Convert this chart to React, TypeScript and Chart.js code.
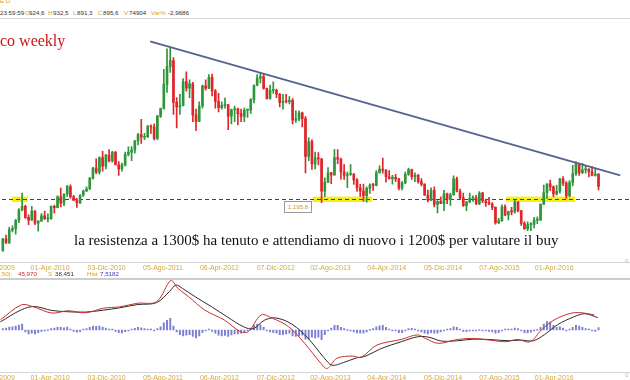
import React, { useEffect, useRef } from "react";
import { Chart, registerables } from "chart.js";
Chart.register(...registerables);

// ---- time axis (weeks since Fri 04-Sep-2009) ----
const candleStepWeeks = 2;
const candleOffsetWeeks = 0.5;
const tickWeeks = [-4.57, 29.86, 65, 100, 135, 170, 204, 239, 274, 309, 343];
const tickLabels = [
  "03-Ago-2009", "01-Apr-2010", "03-Dic-2010", "05-Ago-2011", "06-Apr-2012", "07-Dic-2012",
  "02-Ago-2013", "04-Apr-2014", "05-Dic-2014", "07-Ago-2015", "01-Apr-2016",
];

// ---- gold, 2-week candles ----
const opens = [
  953, 1006, 990, 1050, 1056, 1095, 1145, 1162, 1110, 1097,
  1140, 1082, 1092, 1117, 1103, 1104, 1162, 1156, 1208, 1177,
  1220, 1256, 1208, 1190, 1180, 1215, 1236, 1246, 1296, 1344,
  1325, 1395, 1353, 1406, 1378, 1421, 1360, 1340, 1360, 1410,
  1420, 1430, 1474, 1504, 1491, 1493, 1542, 1540, 1486, 1592,
  1628, 1743, 1828, 1856, 1657, 1636, 1642, 1756, 1725, 1746,
  1598, 1566, 1640, 1736, 1725, 1776, 1712, 1662, 1632, 1643,
  1645, 1592, 1622, 1626, 1604, 1590, 1620, 1620, 1670, 1740,
  1773, 1780, 1724, 1676, 1714, 1714, 1696, 1657, 1662, 1660,
  1667, 1573, 1577, 1607, 1580, 1400, 1470, 1364, 1393, 1388,
  1234, 1277, 1322, 1312, 1395, 1387, 1326, 1310, 1315, 1315,
  1288, 1250, 1235, 1213, 1248, 1264, 1262, 1323, 1340, 1335,
  1303, 1294, 1300, 1293, 1250, 1274, 1315, 1337, 1304, 1310,
  1280, 1268, 1216, 1192, 1238, 1171, 1186, 1175, 1222, 1195,
  1217, 1293, 1234, 1204, 1165, 1184, 1201, 1203, 1175, 1225,
  1189, 1180, 1173, 1157, 1085, 1094, 1160, 1121, 1137, 1136,
  1182, 1142, 1081, 1056, 1075, 1076, 1097, 1097, 1173, 1227,
  1270, 1255, 1222, 1234, 1293, 1273, 1213, 1275, 1318, 1366,
  1322, 1336, 1340, 1326, 1310, 1316,
];
const highs = [
  1010, 1025, 1062, 1070, 1100, 1152, 1226, 1168, 1122, 1162,
  1142, 1095, 1128, 1140, 1127, 1165, 1168, 1212, 1249, 1223,
  1262, 1265, 1215, 1200, 1218, 1240, 1255, 1300, 1348, 1388,
  1398, 1424, 1410, 1432, 1424, 1423, 1375, 1368, 1420, 1445,
  1447, 1476, 1510, 1577, 1510, 1548, 1550, 1555, 1595, 1630,
  1815, 1912, 1921, 1870, 1680, 1695, 1770, 1803, 1764, 1753,
  1625, 1660, 1740, 1765, 1790, 1792, 1718, 1700, 1660, 1678,
  1648, 1625, 1640, 1630, 1625, 1630, 1625, 1675, 1740, 1790,
  1796, 1790, 1725, 1740, 1755, 1720, 1700, 1695, 1695, 1685,
  1675, 1617, 1617, 1611, 1590, 1488, 1480, 1420, 1418, 1390,
  1298, 1347, 1324, 1434, 1433, 1392, 1361, 1325, 1361, 1320,
  1295, 1267, 1268, 1255, 1270, 1272, 1332, 1355, 1392, 1337,
  1332, 1310, 1315, 1296, 1280, 1325, 1345, 1340, 1322, 1315,
  1295, 1270, 1240, 1250, 1255, 1190, 1208, 1238, 1225, 1225,
  1307, 1302, 1245, 1225, 1185, 1225, 1212, 1215, 1232, 1229,
  1197, 1205, 1180, 1160, 1105, 1170, 1170, 1140, 1157, 1191,
  1185, 1143, 1090, 1088, 1085, 1110, 1112, 1173, 1263, 1270,
  1287, 1260, 1262, 1296, 1304, 1280, 1285, 1358, 1375, 1368,
  1367, 1358, 1342, 1352, 1345, 1318,
];
const lows = [
  948, 985, 985, 1040, 1030, 1085, 1140, 1105, 1075, 1095,
  1075, 1044, 1090, 1100, 1088, 1100, 1130, 1155, 1160, 1165,
  1210, 1200, 1190, 1157, 1175, 1210, 1232, 1242, 1292, 1318,
  1315, 1330, 1340, 1374, 1372, 1362, 1309, 1330, 1355, 1402,
  1380, 1415, 1455, 1462, 1480, 1490, 1510, 1478, 1480, 1585,
  1625, 1705, 1800, 1600, 1535, 1600, 1640, 1710, 1680, 1565,
  1523, 1565, 1630, 1715, 1722, 1688, 1630, 1612, 1625, 1630,
  1527, 1555, 1565, 1550, 1565, 1565, 1585, 1605, 1655, 1735,
  1750, 1720, 1672, 1672, 1700, 1680, 1635, 1625, 1655, 1650,
  1555, 1562, 1570, 1540, 1321, 1380, 1338, 1340, 1360, 1180,
  1208, 1275, 1270, 1310, 1365, 1292, 1290, 1251, 1309, 1267,
  1233, 1210, 1187, 1182, 1224, 1238, 1260, 1320, 1320, 1277,
  1292, 1268, 1280, 1240, 1240, 1270, 1310, 1290, 1280, 1272,
  1260, 1215, 1183, 1189, 1160, 1131, 1175, 1142, 1175, 1167,
  1215, 1231, 1196, 1162, 1142, 1178, 1186, 1170, 1170, 1180,
  1162, 1170, 1146, 1077, 1080, 1090, 1118, 1098, 1122, 1130,
  1136, 1072, 1052, 1046, 1047, 1060, 1080, 1095, 1172, 1200,
  1237, 1208, 1215, 1225, 1261, 1200, 1207, 1260, 1310, 1310,
  1318, 1320, 1302, 1307, 1306, 1241,
];
const closes = [
  1006, 990, 1050, 1056, 1095, 1145, 1162, 1110, 1097, 1140,
  1082, 1092, 1117, 1103, 1104, 1162, 1156, 1208, 1177, 1220,
  1256, 1208, 1190, 1180, 1215, 1236, 1246, 1296, 1344, 1325,
  1395, 1353, 1406, 1378, 1421, 1360, 1340, 1360, 1410, 1420,
  1430, 1474, 1504, 1491, 1493, 1542, 1540, 1486, 1592, 1628,
  1743, 1828, 1856, 1657, 1636, 1642, 1756, 1725, 1746, 1598,
  1566, 1640, 1736, 1725, 1776, 1712, 1662, 1632, 1643, 1645,
  1592, 1622, 1626, 1604, 1590, 1620, 1620, 1670, 1740, 1773,
  1780, 1724, 1676, 1714, 1714, 1696, 1657, 1662, 1660, 1667,
  1573, 1577, 1607, 1580, 1400, 1470, 1364, 1393, 1388, 1234,
  1277, 1322, 1312, 1395, 1387, 1326, 1310, 1315, 1315, 1288,
  1250, 1235, 1213, 1248, 1264, 1262, 1323, 1340, 1335, 1303,
  1294, 1300, 1293, 1250, 1274, 1315, 1337, 1304, 1310, 1280,
  1268, 1216, 1192, 1238, 1171, 1186, 1175, 1222, 1195, 1217,
  1293, 1234, 1204, 1165, 1184, 1201, 1203, 1175, 1225, 1189,
  1180, 1173, 1157, 1085, 1094, 1160, 1121, 1137, 1136, 1182,
  1142, 1081, 1056, 1075, 1076, 1097, 1097, 1173, 1227, 1270,
  1255, 1222, 1234, 1293, 1273, 1213, 1275, 1318, 1366, 1322,
  1336, 1340, 1326, 1310, 1316, 1257,
];

// ---- annotations ----
const supportLevel = 1195.8;
const zoneStartWeeks = [6.2, 193, 313];
const zoneEndWeeks = [16.1, 230, 356];
const zoneHalfPrice = 13;
const trendWeeks = [92, 384];
const trendPrices = [1948, 1310];

// ---- MACD ----
const macdWeeks = [-1, 12, 19, 31, 41, 52, 63, 73, 84, 96, 105, 109, 116, 126, 138, 148, 153, 161, 168, 178, 188, 198, 202, 208, 218, 223, 233, 248, 258, 263, 271, 281, 291, 303, 313, 320, 328, 335, 343, 353, 360, 368];
const macdValues = [31, 77, 72, 52, 59, 53, 67, 71, 82, 87, 153, 129, 102, 61, 31, -5, -5, 46, 36, 10, -41, -102, -118, -87, -80, -84, -46, -29, -15, -26, -41, -31, -26, -31, -36, -29, -36, 0, 31, 51, 53, 46];
const signalWeeks = [-1, 12, 20, 31, 41, 52, 63, 73, 84, 96, 104, 108, 112, 120, 130, 140, 150, 156, 163, 170, 180, 190, 200, 205, 212, 220, 226, 235, 248, 258, 265, 273, 283, 293, 305, 315, 322, 330, 337, 345, 355, 362, 370];
const signalValues = [25, 62, 72, 60, 56, 55, 61, 68, 78, 84, 118, 138, 128, 102, 72, 40, 10, 4, 30, 37, 18, -25, -85, -108, -100, -86, -80, -58, -36, -21, -22, -34, -33, -28, -30, -33, -31, -33, -14, 16, 40, 50, 38];
const histValues = [
  4, 6, 9, 10, 12, 15, 18,
  -6, -12, -10, -12, -8, -4,
  -2, 0,
  4, 6, 9, 8, 7, 9,
  2, -4, -7, -5,
  1, 4, 8, 12, 11, 12, 9,
  6, 3, 1, -4, -8, -9,
  -5, -1, 2, 5, 8, 7, 4,
  3, 1, -3,
  4, 10, 22, 30, 36,
  12, -6, -14, -18, -16, -14, -20, -24, -18,
  -8, -2, 2,
  -4, -10, -16, -18, -17, -20, -15, -12, -12, -10, -6,
  -2, 6, 14, 18, 16, 8,
  -2, -6, -8, -10, -14, -14, -12, -10, -18, -20, -18, -16, -28, -28, -22, -24, -22, -30,
  -14, -2, 6, 14, 14,
  8, 4, 0, -2, -6, -9, -10, -10,
  -6, 0, 4, 10, 13, 14,
  8, 2, -2, -3, -8, -8,
  -2, 4, 5, 2,
  -2, -6, -10, -12, -8, -10, -10, -6,
  -2, 2, 4, 10, 8,
  2, -4, -5, -2, -1, -3, 0, -1, -3, -4, -6, -10,
  -8, -2, 1, 2, 3, 6, 4,
  -2, -8, -9, -7,
  -3, 0, 8, 18, 26, 24,
  14, 8, 10, 6, -2, 2,
  8, 14, 12, 8, 4,
  2, -2, -4, 7.5,
];

const X_MIN = -26.09;
const X_MAX = 390.06;
const PRICE_MIN = 894.5;
const PRICE_MAX = 2049.3;
const MACD_MIN = -130.8;
const MACD_MAX = 153.5;

const UP = "#2f963c";
const DOWN = "#e0262a";
const AXIS_FONT = "'Liberation Sans', Arial, sans-serif";
const weekOf = (k: number) => k * candleStepWeeks + candleOffsetWeeks;

function xScale() {
  return {
    type: "linear" as const,
    min: X_MIN,
    max: X_MAX,
    offset: false,
    grid: { display: false, drawTicks: false },
    border: { display: true, color: "#d6d6d6", width: 1 },
    ticks: {
      autoSkip: false,
      maxRotation: 0,
      padding: 1,
      color: "#d4aa40",
      font: { size: 7, family: AXIS_FONT },
      callback: (_v: any, i: number) => tickLabels[i] ?? "",
    },
    afterBuildTicks: (s: any) => {
      s.ticks = tickWeeks.map((v) => ({ value: v }));
    },
  };
}

const levelPlugin = {
  id: "levelPlugin",
  beforeDatasetsDraw(chart: any) {
    const { ctx, chartArea, scales } = chart;
    const x = scales.x;
    const y = scales.y;
    ctx.save();
    ctx.fillStyle = "#f6ee1c";
    for (let i = 0; i < zoneStartWeeks.length; i++) {
      const xa = x.getPixelForValue(zoneStartWeeks[i]);
      const xb = x.getPixelForValue(zoneEndWeeks[i]);
      const ya = y.getPixelForValue(supportLevel + zoneHalfPrice);
      const yb = y.getPixelForValue(supportLevel - zoneHalfPrice);
      ctx.fillRect(xa, ya, xb - xa, yb - ya);
    }
    const yc = Math.round(y.getPixelForValue(supportLevel)) + 0.5;
    ctx.strokeStyle = "#444";
    ctx.lineWidth = 1;
    ctx.setLineDash([4, 3]);
    ctx.beginPath();
    ctx.moveTo(chartArea.left, yc);
    ctx.lineTo(chartArea.right, yc);
    ctx.stroke();
    ctx.restore();
  },
};

export default function App() {
  const priceRef = useRef<HTMLCanvasElement | null>(null);
  const macdRef = useRef<HTMLCanvasElement | null>(null);

  useEffect(() => {
    const colors = closes.map((c, i) => (c >= opens[i] ? UP : DOWN));
    const priceChart = new Chart(priceRef.current as HTMLCanvasElement, {
      type: "bar",
      data: {
        datasets: [
          {
            type: "line",
            data: trendWeeks.map((w, i) => ({ x: w, y: trendPrices[i] })),
            borderColor: "#56638f",
            borderWidth: 1.8,
            pointRadius: 0,
          } as any,
          {
            type: "bar",
            data: closes.map((c, k) => ({ x: weekOf(k), y: [opens[k], c] })),
            backgroundColor: colors,
            barThickness: 2,
            grouped: false,
            minBarLength: 1,
            borderWidth: 0,
          } as any,
          {
            type: "bar",
            data: highs.map((h, k) => ({ x: weekOf(k), y: [lows[k], h] })),
            backgroundColor: colors,
            barThickness: 1,
            grouped: false,
            borderWidth: 0,
          } as any,
        ],
      },
      options: {
        animation: false,
        responsive: false,
        maintainAspectRatio: false,
        events: [],
        layout: { padding: 0 },
        plugins: { legend: { display: false }, tooltip: { enabled: false } },
        scales: {
          x: xScale() as any,
          y: { display: false, min: PRICE_MIN, max: PRICE_MAX },
        },
      },
      plugins: [levelPlugin],
    });

    const macdChart = new Chart(macdRef.current as HTMLCanvasElement, {
      type: "bar",
      data: {
        datasets: [
          {
            type: "line",
            data: macdWeeks.map((w, i) => ({ x: w, y: macdValues[i] })),
            borderColor: "#c9302f",
            borderWidth: 1,
            pointRadius: 0,
            tension: 0.35,
          } as any,
          {
            type: "line",
            data: signalWeeks.map((w, i) => ({ x: w, y: signalValues[i] })),
            borderColor: "#2a2a2a",
            borderWidth: 1,
            pointRadius: 0,
            tension: 0.35,
          } as any,
          {
            type: "bar",
            data: histValues.map((v, k) => ({ x: weekOf(k), y: v })),
            backgroundColor: "#7c80d2",
            barThickness: 1.3,
            grouped: false,
            minBarLength: 1,
            borderWidth: 0,
          } as any,
        ],
      },
      options: {
        animation: false,
        responsive: false,
        maintainAspectRatio: false,
        events: [],
        layout: { padding: 0 },
        plugins: { legend: { display: false }, tooltip: { enabled: false } },
        scales: {
          x: xScale() as any,
          y: { display: false, min: MACD_MIN, max: MACD_MAX },
        },
      },
    });

    return () => {
      priceChart.destroy();
      macdChart.destroy();
    };
  }, []);

  const small: React.CSSProperties = {
    position: "absolute",
    fontFamily: AXIS_FONT,
    fontSize: 6.2,
    lineHeight: "8px",
    whiteSpace: "nowrap",
  };
  const ORANGE = "#dca02a";
  const DARK = "#333";
  const header: [string, number, string][] = [
    ["23:59:59", 0, DARK], ["O", 25, ORANGE], ["924,6", 29, DARK], ["H", 48, ORANGE], ["932,5", 53, DARK],
    ["L", 73, ORANGE], ["891,3", 77, DARK], ["C", 98, ORANGE], ["895,6", 103, DARK], ["V", 124, ORANGE],
    ["74904", 129, DARK], ["Var%", 151, ORANGE], ["-2,9686", 168, DARK],
  ];
  const macdHeader: [string, number, string][] = [
    [",50):", 0, ORANGE], ["45,970", 18, "#c0302c"], ["S", 48, ORANGE], ["38,451", 55, DARK],
    ["Hist", 87, ORANGE], ["7,5182", 100, "#3a3ab0"],
  ];

  return (
    <div style={{ position: "fixed", left: 0, top: 0, width: 630, height: 380, overflow: "hidden", background: "#fff" }}>
      <div style={{ ...small, left: 0, top: -3, color: ORANGE }}>E D</div>
      {header.map(([t, x, c], i) => (
        <div key={"h" + i} style={{ ...small, left: x, top: 9, color: c }}>{t}</div>
      ))}
      <div style={{ position: "absolute", left: 0, top: 18, width: 630, height: 1, background: "#d4d4d4" }} />
      <canvas ref={priceRef} width={670} height={253} style={{ position: "absolute", left: -40, top: 20, display: "block" }} />
      <div style={{ position: "absolute", left: 0, top: 278, width: 630, height: 2, background: "#cdcdcd" }} />
      <canvas ref={macdRef} width={670} height={103} style={{ position: "absolute", left: -40, top: 280, display: "block" }} />
      {macdHeader.map(([t, x, c], i) => (
        <div key={"m" + i} style={{ ...small, left: x, top: 270, color: c }}>{t}</div>
      ))}
      <div
        style={{
          position: "absolute", left: 0, top: 33, color: "#cc1414",
          fontFamily: "'Liberation Serif', 'Times New Roman', serif", fontSize: 16, lineHeight: "16px", whiteSpace: "nowrap",
        }}
      >
        co weekly
      </div>
      <div
        style={{
          position: "absolute", left: 74, top: 233, color: "#111",
          fontFamily: "'Liberation Serif', 'Times New Roman', serif", fontSize: 15, lineHeight: "15px", whiteSpace: "nowrap",
        }}
      >
        la resistenza a 1300$ ha tenuto e attendiamo di nuovo i 1200$ per valutare il buy
      </div>
      <div
        style={{
          ...small, left: 284, top: 201, width: 26, height: 10, lineHeight: "10px", textAlign: "center",
          border: "1px solid #999", background: "#fff", color: "#c8a040",
        }}
      >
        1.195,8
      </div>
      <div style={{ ...small, left: 625, top: 257, color: "#bbb" }}>0</div>
      <div style={{ ...small, left: 625, top: 371, color: "#bbb" }}>0</div>
    </div>
  );
}
